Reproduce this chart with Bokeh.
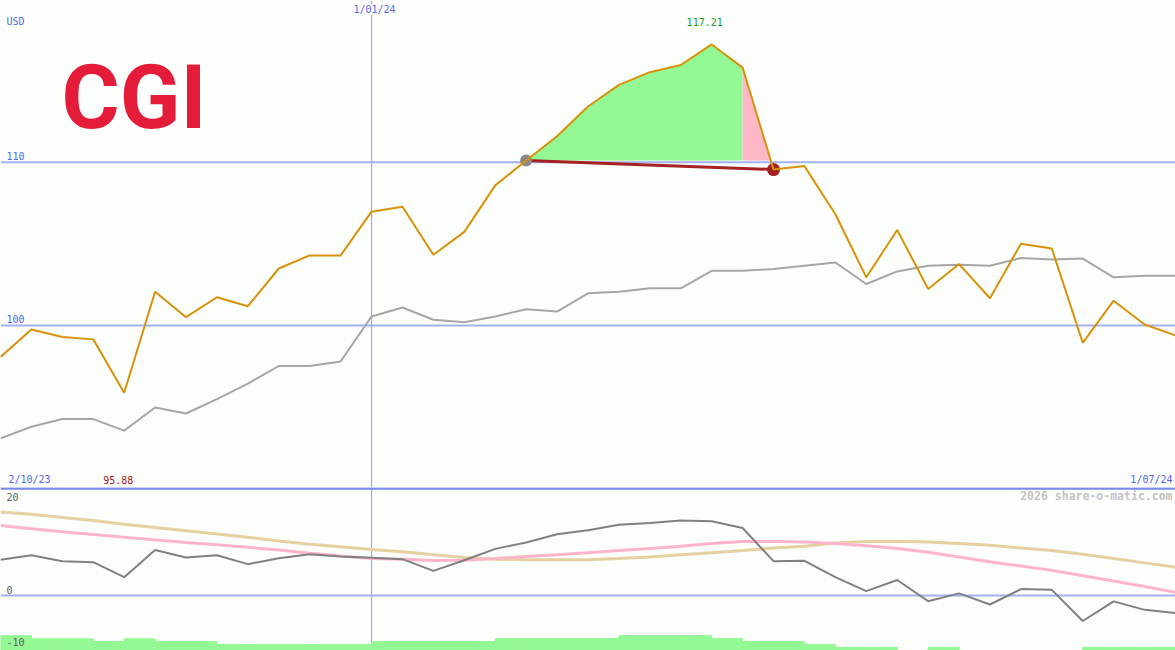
from bokeh.plotting import figure
from bokeh.models import Range1d, Span, Label
from bokeh.layouts import column
from bokeh.embed import file_html
from bokeh.resources import INLINE

# ---------------- data (weekly points) ----------------
weeks = list(range(39))
price = [98.07, 99.76, 99.29, 99.15, 95.88, 102.07, 100.51, 101.73, 101.18, 103.49,
         104.29, 104.29, 106.97, 107.27, 104.33, 105.73, 108.58, 110.10, 111.59, 113.41,
         114.73, 115.51, 115.95, 117.21, 115.79, 109.55, 109.76, 106.81, 102.95, 105.85,
         102.24, 103.76, 101.67, 105.00, 104.71, 98.94, 101.52, 100.06, 99.39]
benchmark = [93.09, 93.80, 94.27, 94.27, 93.56, 94.98, 94.61, 95.49, 96.44, 97.52,
             97.52, 97.80, 100.55, 101.10, 100.35, 100.20, 100.55, 101.00, 100.85, 101.97,
             102.07, 102.28, 102.28, 103.35, 103.35, 103.46, 103.66, 103.86, 102.54, 103.31,
             103.66, 103.72, 103.66, 104.13, 104.04, 104.10, 102.95, 103.05, 103.05]
osc = [6.67, 7.54, 6.42, 6.23, 3.43, 8.50, 7.10, 7.54, 5.86, 6.98,
       7.73, 7.29, 7.04, 6.79, 4.61, 6.60, 8.72, 9.90, 11.45, 12.20,
       13.21, 13.55, 14.02, 13.89, 12.62, 6.42, 6.48, 3.43, 0.81, 2.90,
       -1.06, 0.40, -1.68, 1.20, 1.06, -4.77, -1.10, -2.68, -3.30]
osc_fast = [13.1, 12.5, 11.9, 11.4, 10.9, 10.4, 9.9, 9.5, 9.0, 8.5,
            7.9, 7.4, 6.9, 6.8, 6.55, 6.6, 6.9, 7.3, 7.6, 8.0,
            8.4, 8.8, 9.2, 9.7, 10.1, 10.1, 10.0, 9.7, 9.3, 8.8,
            8.1, 7.2, 6.3, 5.5, 4.7, 3.7, 2.7, 1.7, 0.6]
osc_slow = [15.6, 15.2, 14.6, 14.0, 13.3, 12.7, 12.1, 11.5, 10.9, 10.2,
            9.6, 9.1, 8.6, 8.2, 7.6, 7.1, 6.8, 6.7, 6.7, 6.7,
            6.9, 7.2, 7.6, 8.0, 8.4, 8.9, 9.2, 9.8, 10.1, 10.15,
            10.0, 9.7, 9.4, 8.9, 8.4, 7.7, 6.9, 6.1, 5.3]
nan = float("nan")
volume_level = [-7.5, -8.1, -8.1, -8.6, -8.1, -8.6, -8.6, -9.15, -9.15, -9.15,
                -9.15, -9.15, -8.6, -8.6, -8.6, -8.6, -8.05, -8.05, -8.05, -8.05,
                -7.5, -7.5, -7.5, -8.05, -8.6, -8.6, -9.15, -9.7, -9.7, nan,
                -9.7, nan, nan, nan, nan, -9.7, -9.7, -9.7]
main_ticks = [110, 100]
main_tick_labels = ["110", "100"]
low_ticks = [20, 0, -10]
low_tick_labels = ["20", "0", "-10"]
start_label, mid_label, end_label = "2/10/23", "1/01/24", "1/07/24"
mid_index = 12
buy_index, sell_index = 17, 25
max_text, min_text = "117.21", "95.88"
currency = "USD"
logo_text = "CGI"
watermark = "2026 share-o-matic.com"

# ---------------- styling ----------------
W, H1, H2 = 1175, 487, 163
BG = "#fcfefc"
GRID = "#a4b0f2"
VGRID = "#9aaaf8"
SEP = "#7a88ea"
BLUE_TXT = "#5566ee"
MONO = "DejaVu Sans Mono"
BAR = "#94f894"

def base_fig(h, yr):
    f = figure(width=W, height=h, x_range=Range1d(0, 38), y_range=yr,
               output_backend="svg", toolbar_location=None, min_border=0,
               x_axis_location=None, y_axis_location=None,
               background_fill_color=BG, border_fill_color=BG, outline_line_color=None)
    f.grid.visible = False
    return f

# ---------------- main panel ----------------
p = base_fig(H1, Range1d(90.08, 119.90))
for t in main_ticks:
    p.add_layout(Span(location=t, dimension="width", line_color=GRID, line_width=2, level="underlay"))
p.add_layout(Span(location=mid_index, dimension="height", line_color=VGRID, line_width=1.2, level="underlay"))

base = price[buy_index]
peak = price.index(max(price))
p.varea(x=weeks[buy_index:peak + 2], y1=[base] * (peak + 2 - buy_index),
        y2=price[buy_index:peak + 2], fill_color=BAR)
xc = (peak + 1) + (price[peak + 1] - base) / (price[peak + 1] - price[sell_index])
p.varea(x=[peak + 1, xc], y1=[base, base], y2=[price[peak + 1], base], fill_color="#ffb6c6")

p.line(weeks, benchmark, line_color="#a6a6a6", line_width=2)
p.line([buy_index, sell_index], [price[buy_index], price[sell_index]], line_color="#a52222", line_width=3)
p.scatter([buy_index], [price[buy_index]], size=12, fill_color="#888888", line_color=None)
p.scatter([sell_index], [price[sell_index]], size=13, fill_color="#a52222", line_color=None)
p.line(weeks, price, line_color="#d8920a", line_width=2)

def lab(fig, **kw):
    d = dict(text_font=MONO, text_font_size="10px", text_baseline="middle")
    d.update(kw)
    fig.add_layout(Label(**d))

lab(p, x=6, y=H1 - 21, x_units="screen", y_units="screen", text=currency, text_color=BLUE_TXT)
for t, s in zip(main_ticks, main_tick_labels):
    lab(p, x=6, y=t, x_units="screen", y_offset=6, text=s, text_color=BLUE_TXT)
lab(p, x=mid_index, y=H1 - 9, y_units="screen", x_offset=3, text=mid_label, text_color=BLUE_TXT,
    text_align="center", background_fill_color=BG)
lab(p, x=peak, y=H1 - 21, y_units="screen", x_offset=-7, text=max_text, text_color="#209a20",
    text_align="center")
lab(p, x=price.index(min(price)), y=8, y_units="screen", x_offset=-6, text=min_text,
    text_color="#a01818", text_align="center")
lab(p, x=8, y=8, x_units="screen", y_units="screen", text=start_label, text_color=BLUE_TXT)
lab(p, x=W - 3, y=8, x_units="screen", y_units="screen", text=end_label, text_color=BLUE_TXT,
    text_align="right")
p.add_layout(Label(x=61, y=H1 - 97, x_units="screen", y_units="screen", text=logo_text,
                   text_font="Roboto", text_font_style="bold", text_font_size="89px",
                   text_color="#e41c3a", text_baseline="alphabetic"))

# ---------------- lower panel ----------------
q = base_fig(H2, Range1d(-10.28, 20.19))
q.add_layout(Span(location=0, dimension="width", line_color=GRID, line_width=2, level="underlay"))
q.add_layout(Span(location=mid_index, dimension="height", line_color=VGRID, line_width=1.2, level="underlay"))
q.quad(left=weeks[:-1], right=weeks[1:], bottom=-12, top=volume_level,
       fill_color=BAR, line_color=BAR, line_width=1)
q.line(weeks, osc_slow, line_color="#e4d0a0", line_width=3)
q.line(weeks, osc_fast, line_color="#ffb4c8", line_width=3)
q.line(weeks, osc, line_color="#808080", line_width=2)
q.add_layout(Span(location=low_ticks[0], dimension="width", line_color=SEP, line_width=2.5))

lab(q, x=W - 3, y=H2 - 8.7, x_units="screen", y_units="screen", text=watermark,
    text_color="#c4c4c4", text_font_style="bold", text_font_size="11.5px", text_align="right")
lab(q, x=6, y=H2 - 9.7, x_units="screen", y_units="screen", text=low_tick_labels[0], text_color="#606060")
lab(q, x=6, y=low_ticks[1], x_units="screen", y_offset=6, text=low_tick_labels[1], text_color="#606060")
lab(q, x=6, y=8.3, x_units="screen", y_units="screen", text=low_tick_labels[2], text_color="#606060")

layout = column(p, q, spacing=0)
open("out.html", "w").write(file_html(layout, INLINE))
